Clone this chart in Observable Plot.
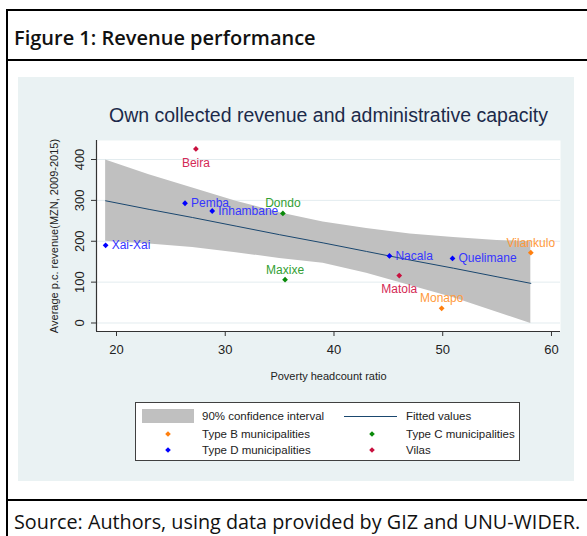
<!DOCTYPE html>
<html>
<head>
<meta charset="utf-8">
<script src="https://cdn.jsdelivr.net/npm/d3@7"></script>
<script src="https://cdn.jsdelivr.net/npm/@observablehq/plot@0.6"></script>
<style>
  html, body { margin: 0; padding: 0; width: 587px; height: 536px; overflow: hidden; background: #fff; }
  #page { position: relative; width: 587px; height: 536px; }
  .abs { position: absolute; }
  #box { left: 6px; top: 9px; width: 700px; height: 700px; border: 2px solid #000; box-sizing: border-box; }
  .sep { left: 6px; width: 700px; height: 2px; background: #000; }
  #figtitle { left: 14px; top: 24px; font-family: "Open Sans", sans-serif; font-weight: 600; font-size: 20px; line-height: 28px; color: #111; white-space: nowrap; }
  #caption { left: 14px; top: 508px; font-family: "Open Sans", sans-serif; font-size: 19.8px; line-height: 28px; color: #111; white-space: nowrap; }
  #graph { left: 18px; top: 77px; width: 556px; height: 404px; background: #eaf2f3; }
  #legend { left: 117px; top: 325px; width: 385px; height: 59px; border: 1px solid #404040; background: #fff; box-sizing: border-box;
            font-family: "Liberation Sans", Arial, sans-serif; font-size: 11.5px; color: #222; }
  #legend .lbl { position: absolute; white-space: nowrap; line-height: 14px; }
</style>
</head>
<body>
<div id="page">
  <div id="box" class="abs"></div>
  <div id="figtitle" class="abs">Figure 1: Revenue performance</div>
  <div class="sep abs" style="top:59px"></div>
  <div id="graph" class="abs">
    <div id="chart" class="abs" style="left:0;top:0"></div>
    <div id="legend" class="abs"></div>
  </div>
  <div class="sep abs" style="top:499px"></div>
  <div id="caption" class="abs">Source: Authors, using data provided by GIZ and UNU-WIDER.</div>
</div>
<script>
// ---- data ----
const names    = ["Beira", "Pemba", "Inhambane", "Dondo", "Xai-Xai", "Maxixe", "Nacala", "Quelimane", "Matola", "Monapo", "Vilankulo"];
const poverty  = [27.3, 26.3, 28.8, 35.3, 19.0, 35.5, 45.1, 50.9, 46.0, 49.9, 58.1];
const revenue  = [426, 293, 274, 268, 190, 106, 164, 158, 116, 36, 172];
const muniType = ["Vilas", "Type D municipalities", "Type D municipalities", "Type C municipalities", "Type D municipalities",
                  "Type C municipalities", "Type D municipalities", "Type D municipalities", "Vilas", "Type B municipalities", "Type B municipalities"];

const fitX     = [19, 23, 27, 31, 35, 39, 43, 47, 51, 55, 58.1];
const fitted   = [299, 278, 258, 237, 216, 196, 175, 154, 134, 113, 97];
const ciUpper  = [399, 363, 330, 298, 270, 247, 231, 218, 209, 202, 199];
const ciLower  = [200, 193, 185, 172, 158, 146, 122, 92, 62, 26, -1];

const xTicks = [20, 30, 40, 50, 60];
const yTicks = [0, 100, 200, 300, 400];

const chartTitle = "Own collected revenue and administrative capacity";
const xLabel = "Poverty headcount ratio";
const yLabel = "Average p.c. revenue(MZN, 2009-2015)";
const ciLabel = "90% confidence interval";
const fitLabel = "Fitted values";
const legendTypes = ["Type B municipalities", "Type C municipalities", "Type D municipalities", "Vilas"];

// ---- styles / layout ----
const markerColor = {"Type B municipalities": "#ff7f0e", "Type C municipalities": "#0a8a0a", "Type D municipalities": "#0000ff", "Vilas": "#c8103e"};
const labelColor  = {"Type B municipalities": "#ff9a3c", "Type C municipalities": "#33a033", "Type D municipalities": "#3535ff", "Vilas": "#d42a55"};
const labelPlace  = {Beira: "below", Pemba: "right", Inhambane: "right", Dondo: "above", "Xai-Xai": "right", Maxixe: "above",
                     Nacala: "right", Quelimane: "right", Matola: "below", Monapo: "above", Vilankulo: "above"};
const xDomain = [18.16, 60.83];
const yDomain = [-20.8, 446.5];

const pts = names.map((n, i) => ({name: n, x: poverty[i], y: revenue[i], type: muniType[i]}));
const band = fitX.map((x, i) => ({x, fit: fitted[i], hi: ciUpper[i], lo: ciLower[i]}));

const font = "'Liberation Sans', Arial, sans-serif";
const textOpts = (place) => {
  if (place === "right") return {textAnchor: "start", dx: 6, dy: 0};
  if (place === "above") return {textAnchor: "middle", dx: 0, dy: -10};
  return {textAnchor: "middle", dx: 0, dy: 14};
};

const labelMarks = ["right", "above", "below"].map(p =>
  Plot.text(pts.filter(d => labelPlace[d.name] === p), {
    x: "x", y: "y", text: "name", fill: d => labelColor[d.type], fontSize: 12, ...textOpts(p)
  })
);

const chart = Plot.plot({
  width: 556, height: 404,
  marginLeft: 78, marginRight: 14, marginTop: 63, marginBottom: 150,
  x: {domain: xDomain},
  y: {domain: yDomain},
  style: {background: "transparent", fontFamily: font, color: "#222"},
  marks: [
    Plot.frame({fill: "white", stroke: null}),
    Plot.ruleY(yTicks, {stroke: "#e3ecef", strokeWidth: 1}),
    Plot.areaY(band, {x: "x", y1: "lo", y2: "hi", fill: "#c0c0c0"}),
    Plot.line(band, {x: "x", y: "fit", stroke: "#1a476f", strokeWidth: 1}),
    Plot.ruleX([xDomain[0]], {stroke: "#333", strokeWidth: 1.2}),
    Plot.ruleY([yDomain[0]], {stroke: "#333", strokeWidth: 1.2}),
    Plot.axisX({ticks: xTicks, tickSize: 5, tickPadding: 8, fontSize: 13, label: null, stroke: "#333", fill: "#222"}),
    Plot.axisY({ticks: yTicks, tickSize: 5, tickFormat: () => "", label: null, stroke: "#333"}),
    Plot.text(yTicks, {y: d => d, text: d => String(d), frameAnchor: "left", textAnchor: "middle", lineAnchor: "middle", rotate: -90, dx: -17, fontSize: 13, fill: "#222"}),
    Plot.text([xLabel], {frameAnchor: "bottom", textAnchor: "middle", lineAnchor: "middle", dy: 44.5, fontSize: 11, fill: "#222"}),
    Plot.text([yLabel], {frameAnchor: "left", textAnchor: "middle", lineAnchor: "middle", rotate: -90, dx: -42, fontSize: 11, fill: "#222"}),
    Plot.text([chartTitle], {frameAnchor: "top", textAnchor: "middle", lineAnchor: "middle", dy: -25, fontSize: 19.5, fill: "#1c2a4a"}),
    Plot.dot(pts, {x: "x", y: "y", symbol: "diamond2", r: 2.6, fill: d => markerColor[d.type], stroke: null}),
    ...labelMarks
  ]
});
document.getElementById("chart").appendChild(chart);

// ---- legend (HTML) ----
const legend = document.getElementById("legend");
function addLabel(text, left, cy) {
  const el = document.createElement("div");
  el.className = "lbl";
  el.textContent = text;
  el.style.left = left + "px";
  el.style.top = (cy - 7) + "px";
  legend.appendChild(el);
}
function addDiamond(color, cx, cy) {
  const ns = "http://www.w3.org/2000/svg";
  const s = document.createElementNS(ns, "svg");
  s.setAttribute("width", 8); s.setAttribute("height", 8);
  s.style.position = "absolute"; s.style.left = (cx - 4) + "px"; s.style.top = (cy - 4) + "px";
  const p = document.createElementNS(ns, "path");
  p.setAttribute("d", "M4,1.2L6.8,4L4,6.8L1.2,4Z");
  p.setAttribute("fill", color);
  s.appendChild(p);
  legend.appendChild(s);
}
// row 1
const rect = document.createElement("div");
Object.assign(rect.style, {position: "absolute", left: "6px", top: "6px", width: "52px", height: "14px", background: "#c0c0c0"});
legend.appendChild(rect);
addLabel(ciLabel, 66, 13);
const ln = document.createElement("div");
Object.assign(ln.style, {position: "absolute", left: "208px", top: "13px", width: "53px", height: "1px", background: "#1a476f"});
legend.appendChild(ln);
addLabel(fitLabel, 270, 13);
// rows 2-3
legendTypes.forEach((t, i) => {
  const col = i % 2, row = Math.floor(i / 2);
  const cy = 31 + row * 16;
  addDiamond(markerColor[t], col === 0 ? 32 : 236, cy);
  addLabel(t, col === 0 ? 66 : 270, cy);
});
</script>
</body>
</html>
